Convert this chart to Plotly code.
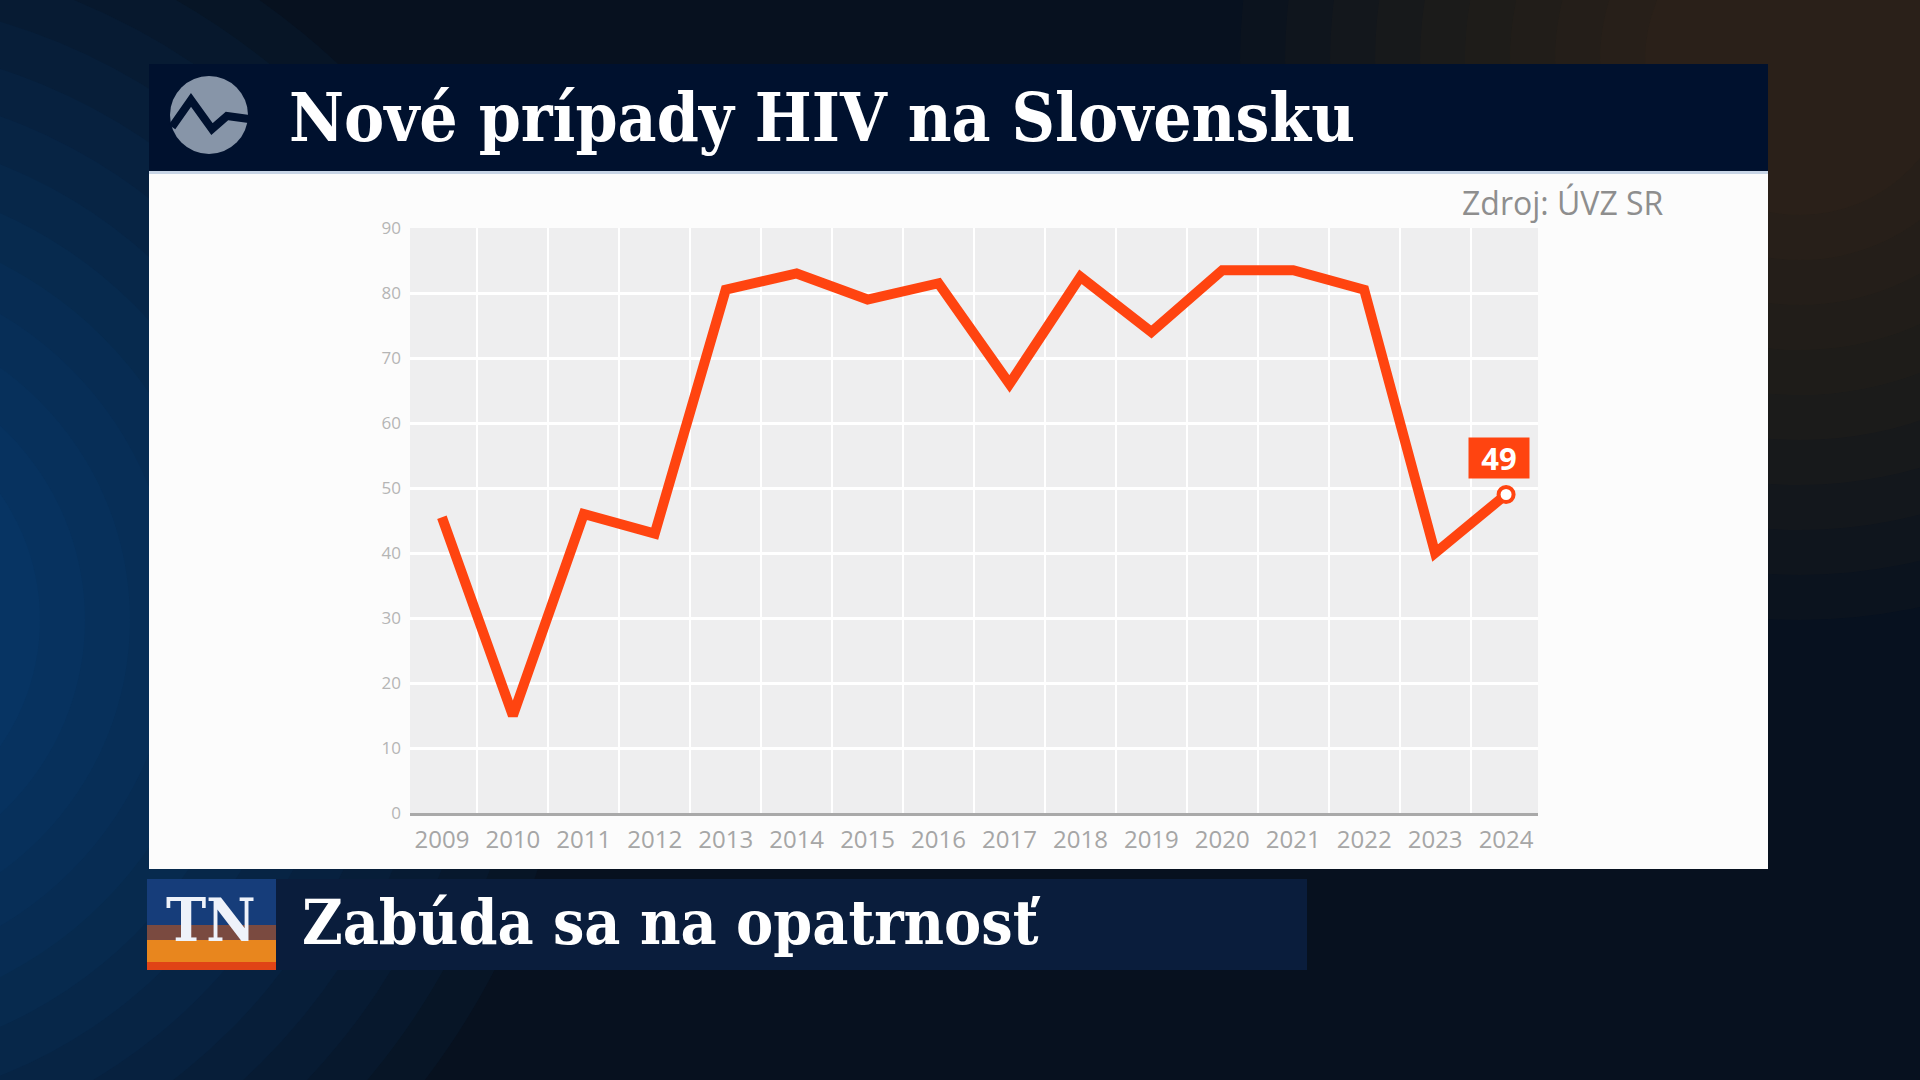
import plotly.graph_objects as go

# Nové prípady HIV na Slovensku (zdroj: ÚVZ SR)
years = [2009, 2010, 2011, 2012, 2013, 2014, 2015, 2016,
         2017, 2018, 2019, 2020, 2021, 2022, 2023, 2024]
cases = [45.5, 15, 46, 43, 80.5, 83, 79, 81.5,
         66, 82.5, 74, 83.5, 83.5, 80.5, 40, 49]
y_ticks = [0, 10, 20, 30, 40, 50, 60, 70, 80, 90]

title_text = "Nové prípady HIV na Slovensku"
source_text = "Zdroj: ÚVZ SR"
banner_text = "Zabúda sa na opatrnosť"

W, H = 1920, 1080
# plot area in pixels
PL, PR, PT, PB = 410, 1538, 228, 813


def px(x):
    return (x - PL) / (PR - PL)


def py(y):
    return (PB - y) / (PB - PT)


def rect(x0, y0, x1, y1, color, **kw):
    return dict(type="rect", xref="paper", yref="paper", layer="below",
                x0=px(x0), x1=px(x1), y0=py(y1), y1=py(y0),
                fillcolor=color, line=dict(width=0), **kw)


def circle(cx, cy, r, color):
    return dict(type="circle", xref="paper", yref="paper", layer="below",
                x0=px(cx - r), x1=px(cx + r), y0=py(cy + r), y1=py(cy - r),
                fillcolor=color, line=dict(width=0))


orange = "#ff4410"

fig = go.Figure()

fig.add_trace(go.Scatter(
    x=years, y=cases, mode="lines",
    line=dict(color=orange, width=10),
    hoverinfo="skip", showlegend=False,
))
fig.add_trace(go.Scatter(
    x=years[-1:], y=cases[-1:], mode="markers",
    marker=dict(size=15, color="white", line=dict(color=orange, width=4)),
    hoverinfo="skip", showlegend=False,
))

shapes = []
# background glow (blue left, warm top right), many faint layers
for i in range(14):
    r = 760 - i * 45
    shapes.append(circle(-180, 620, r, "rgba(20,95,180,0.05)"))
for i in range(10):
    r = 560 - i * 45
    shapes.append(circle(1800, 60, r, "rgba(140,85,35,0.04)"))

# header bar
shapes.append(rect(149, 64, 1768, 171, "#00112e"))
shapes.append(rect(149, 171, 1768, 174, "#c8d5e6"))
# white panel
shapes.append(rect(149, 174, 1768, 869, "#fcfcfc"))
# plot background
shapes.append(rect(PL, PT, PR, PB, "#eeeeef"))

# logo
shapes.append(circle(209, 115, 39, "#8795a8"))
shapes.append(dict(
    type="path", xref="paper", yref="paper", layer="below",
    path=("M {} {} L {} {} L {} {} L {} {} L {} {}".format(
        px(172), py(127), px(191), py(100), px(212), py(129),
        px(227), py(116), px(249), py(119))),
    line=dict(color="#00112e", width=8),
))

# bottom banner
shapes.append(rect(147, 879, 1307, 970, "#0a1d3c"))
shapes.append(rect(147, 879, 276, 970, "#163d7a"))
shapes.append(rect(147, 925, 276, 950, "#7a4a40"))
shapes.append(rect(147, 940, 276, 962, "#e8861e"))
shapes.append(rect(147, 962, 276, 970, "#e04416"))

annotations = [
    dict(text=title_text, xref="paper", yref="paper", x=px(287), y=py(117),
         xanchor="left", yanchor="middle", showarrow=False,
         font=dict(family="DejaVu Serif Condensed", size=67, color="white", weight="bold")),
    dict(text=source_text, xref="paper", yref="paper", x=px(1666), y=py(203),
         xanchor="right", yanchor="middle", showarrow=False,
         font=dict(family="Open Sans", size=32, color="#8e8e8e")),
    dict(text="TN", xref="paper", yref="paper", x=px(211), y=py(920),
         xanchor="center", yanchor="middle", showarrow=False,
         font=dict(family="DejaVu Serif Condensed", size=60, color="#eef2fa", weight="bold")),
    dict(text=banner_text, xref="paper", yref="paper", x=px(300), y=py(922),
         xanchor="left", yanchor="middle", showarrow=False,
         font=dict(family="DejaVu Serif Condensed", size=62, color="white", weight="bold")),
    dict(text=str(cases[-1]), x=years[-1], y=cases[-1], xref="x", yref="y",
         showarrow=False, yshift=37, xshift=-7,
         bgcolor=orange, width=54, height=34, borderpad=3,
         font=dict(family="Open Sans", size=31, color="white", weight="bold")),
]

fig.update_layout(
    width=W, height=H, autosize=False,
    margin=dict(l=PL, r=W - PR, t=PT, b=H - PB, pad=0),
    paper_bgcolor="#07111f",
    plot_bgcolor="rgba(0,0,0,0)",
    shapes=shapes,
    annotations=annotations,
    showlegend=False,
    xaxis=dict(
        range=[2008.55, 2024.45],
        tickvals=years, ticktext=[str(y) for y in years],
        showgrid=False, zeroline=False,
        showline=True, linecolor="#a9a9a9", linewidth=3,
        ticks="", ticklabelstandoff=3,
        tickfont=dict(family="Open Sans", size=24, color="#a6a6a6"),
        minor=dict(tick0=2008.5, dtick=1, showgrid=True,
                   gridcolor="white", gridwidth=2, ticks=""),
        fixedrange=True,
    ),
    yaxis=dict(
        range=[0, 90], tickvals=y_ticks,
        showgrid=True, gridcolor="white", gridwidth=3,
        zeroline=False, showline=False,
        ticks="", ticklabelstandoff=8,
        tickfont=dict(family="Open Sans", size=17, color="#b5b5b5"),
        fixedrange=True,
    ),
)

fig.write_html("out.html", config={"staticPlot": True},
               post_script="document.body.style.margin='0';")
